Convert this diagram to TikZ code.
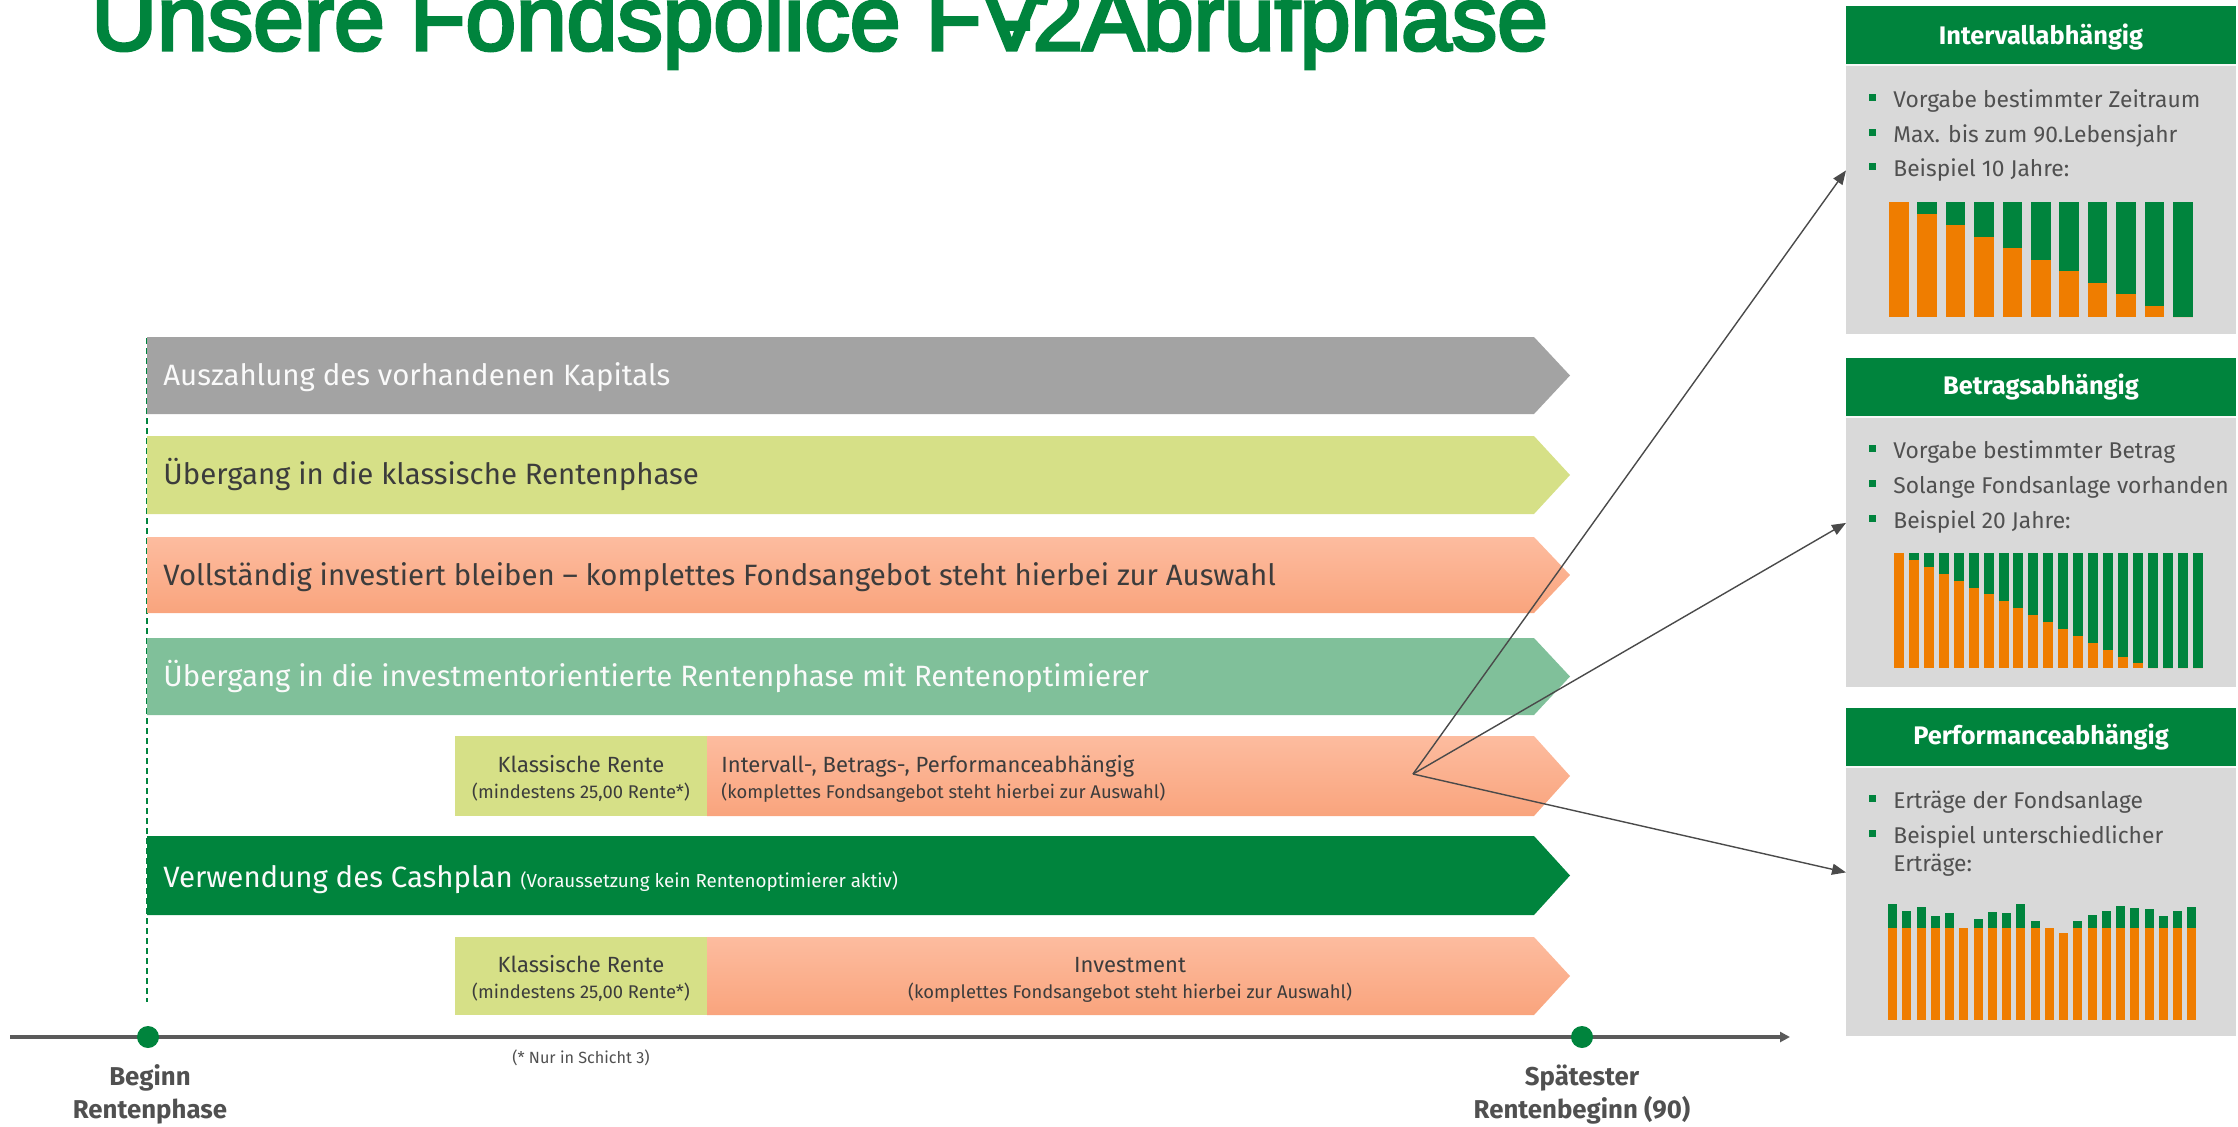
\documentclass[tikz,border=0pt]{standalone}
\usepackage{fontspec}
\setmainfont{Fira Sans}
\newfontfamily\titlefont[FakeBold=3.5]{Liberation Sans}
\usetikzlibrary{arrows.meta,calc}
\definecolor{dgreen}{HTML}{00843D}
\definecolor{mgreen}{HTML}{80C09A}
\definecolor{lgreen}{HTML}{D6E087}
\definecolor{greybar}{HTML}{A3A3A3}
\definecolor{salmonT}{HTML}{FDBC9F}
\definecolor{salmonB}{HTML}{F9A47D}
\definecolor{orng}{HTML}{EF7D00}
\definecolor{panelbg}{HTML}{D9D9D9}
\definecolor{txt}{HTML}{3C3C3C}
\definecolor{ptxt}{HTML}{505050}
\definecolor{linegray}{HTML}{4A4A4A}
\definecolor{tlgray}{HTML}{5A5A5A}
\newcommand{\ArrowBar}[4]{\fill[#4] (#1,#2) -- (1534,#2) -- (1570,{(#2+#3)/2}) -- (1534,#3) -- (#1,#3) -- cycle;}
\newcommand{\ShadeBar}[3]{\shade[top color=salmonT,bottom color=salmonB] (#1,#2) -- (1534,#2) -- (1570,{(#2+#3)/2}) -- (1534,#3) -- (#1,#3) -- cycle;}
\begin{document}
\begin{tikzpicture}[x=0.5pt,y=-0.5pt,
  titletxt/.style={font=\titlefont\fontsize{45.5}{50}\selectfont, text=dgreen, inner sep=0},
  bartxt/.style={font=\fontsize{14.7}{17}\selectfont, inner sep=0, text=txt},
  barwhite/.style={bartxt, text=white!96!gray},
  midtxt/.style={font=\fontsize{11}{13}\selectfont, inner sep=0, text=txt},
  smalltxt/.style={font=\fontsize{9.2}{11}\selectfont, inner sep=0, text=txt},
  ptext/.style={font=\fontsize{11.4}{13}\selectfont, inner sep=0, text=ptxt},
  phead/.style={font=\bfseries\fontsize{12.7}{15}\selectfont, inner sep=0, text=white},
  panelbox/.style={fill=panelbg, inner sep=0, minimum width=195pt, anchor=north west},
  headbox/.style={fill=dgreen, inner sep=0, minimum width=195pt, minimum height=29pt, anchor=north west},
  bul/.style={fill=dgreen, inner sep=0, minimum size=3.5pt},
  blabel/.style={font=\bfseries\fontsize{12.9}{15}\selectfont, inner sep=0, text=ptxt},
  dot/.style={circle, fill=dgreen, inner sep=0, minimum size=11pt},
  conn/.style={draw=linegray, line width=0.7pt, -{Triangle[length=7pt,width=5.5pt]}},
  timeline/.style={draw=tlgray, line width=1.6pt, -{Triangle[length=5pt,width=5pt]}}
]
\useasboundingbox (0,0) rectangle (2238,1126);
\clip (0,0) rectangle (2238,1126);

% title
\node[titletxt, anchor=base west] (t1) at (91,50) {Unsere Fondspolice FV\kern-20pt-2A};
\node[titletxt, anchor=base west] (t2) at (1082,50) {Abrufphase};

% dashed start line
\coordinate (v0) at (147,338);
\coordinate (v1) at (147,1002);
\draw[dgreen, line width=0.7pt, dash pattern=on 3pt off 2pt] (v0) -- (v1);

% bars
\ArrowBar{147}{337}{414}{greybar}
\ArrowBar{147}{436}{514}{lgreen}
\ShadeBar{147}{537}{613}
\ArrowBar{147}{638}{715}{mgreen}
\fill[lgreen] (455,736) rectangle (707,816);
\ShadeBar{707}{736}{816}
\ArrowBar{147}{836}{915}{dgreen}
\fill[lgreen] (455,937) rectangle (707,1015);
\ShadeBar{707}{937}{1015}

\node[barwhite, anchor=base west] (b1) at (163,385) {Auszahlung des vorhandenen Kapitals};
\node[bartxt, anchor=base west] (b2) at (163,484) {Übergang in die klassische Rentenphase};
\node[bartxt, anchor=base west] (b3) at (163,585) {Vollständig investiert bleiben – komplettes Fondsangebot steht hierbei zur Auswahl};
\node[barwhite, anchor=base west] (b4) at (163,686) {Übergang in die investmentorientierte Rentenphase mit Rentenoptimierer};
\node[midtxt, anchor=base] (k1) at (581,772) {Klassische Rente};
\node[smalltxt, anchor=base] (k1s) at (581,798) {(mindestens 25,00 Rente*)};
\node[midtxt, anchor=base west] (i1) at (721,772) {Intervall-, Betrags-, Performanceabhängig};
\node[smalltxt, anchor=base west] (i1s) at (721,798) {(komplettes Fondsangebot steht hierbei zur Auswahl)};
\node[barwhite, anchor=base west] (b6) at (163,887) {Verwendung des Cashplan {\fontsize{9.4}{11}\selectfont (Voraussetzung kein Rentenoptimierer aktiv)}};
\node[midtxt, anchor=base] (k2) at (581,972) {Klassische Rente};
\node[smalltxt, anchor=base] (k2s) at (581,998) {(mindestens 25,00 Rente*)};
\node[midtxt, anchor=base] (i2) at (1130,972) {Investment};
\node[smalltxt, anchor=base] (i2s) at (1130,998) {(komplettes Fondsangebot steht hierbei zur Auswahl)};

% timeline
\coordinate (tl0) at (10,1037);
\coordinate (tl1) at (1790,1037);
\draw[timeline] (tl0) -- (tl1);
\node[dot] (d1) at (148,1037) {};
\node[dot] (d2) at (1582,1037) {};
\node[blabel, anchor=base] (l1a) at (150,1085) {Beginn};
\node[blabel, anchor=base] (l1b) at (150,1118) {Rentenphase};
\node[blabel, anchor=base] (l2a) at (1582,1085) {Spätester};
\node[blabel, anchor=base] (l2b) at (1582,1118) {Rentenbeginn (90)};
\node[smalltxt, font=\fontsize{8.1}{10}\selectfont, text=ptxt, anchor=base] (fn) at (581,1063) {(* Nur in Schicht 3)};

% panels
\node[panelbox, minimum height=164pt] (p1) at (1846,6) {};
\node[headbox] (h1) at (1846,6) {};
\fill[white!80!panelbg] (1846,64) rectangle (2236,66);
\node[phead, anchor=base] at (2041,44) {Intervallabhängig};

\node[panelbox, minimum height=164.5pt] (p2) at (1846,358) {};
\node[headbox] (h2) at (1846,358) {};
\fill[white!80!panelbg] (1846,416) rectangle (2236,418);
\node[phead, anchor=base] at (2041,394) {Betragsabhängig};

\node[panelbox, minimum height=164pt] (p3) at (1846,708) {};
\node[headbox] (h3) at (1846,708) {};
\fill[white!80!panelbg] (1846,766) rectangle (2236,768);
\node[phead, anchor=base] at (2041,744) {Performanceabhängig};

% panel texts
\foreach \yy/\tt in {107/Vorgabe bestimmter Zeitraum, 142/Max. bis zum 90.Lebensjahr, 176/Beispiel 10 Jahre:,
                     458/Vorgabe bestimmter Betrag, 493/Solange Fondsanlage vorhanden, 528/Beispiel 20 Jahre:,
                     808/Erträge der Fondsanlage, 843/Beispiel unterschiedlicher}{
  \node[bul] at (1872.5,\yy-10) {};
  \node[ptext, anchor=base west] at (1893,\yy) {\tt};
}
\node[ptext, anchor=base west] at (1893,871) {Erträge:};

% chart 1
\foreach \i in {0,...,10}{
  \pgfmathsetmacro\xl{1889+\i*28.4}
  \pgfmathsetmacro\ot{317-(10-\i)*11.5}
  \fill[dgreen] (\xl,202) rectangle (\xl+19.5,\ot);
  \fill[orng] (\xl,\ot) rectangle (\xl+19.5,317);
}
% chart 2
\foreach \i in {0,...,20}{
  \pgfmathsetmacro\xl{1894+\i*14.93}
  \pgfmathsetmacro\ot{668-max(0,1-0.06*\i)*115}
  \fill[dgreen] (\xl,553) rectangle (\xl+10,\ot);
  \fill[orng] (\xl,\ot) rectangle (\xl+10,668);
}
% chart 3
\foreach \i/\g/\o in {0/904.3/928,1/910.7/928,2/907/928,3/915.7/928,4/912.7/928,5/928/928,
  6/918.7/928,7/911.7/928,8/912.7/928,9/904.3/928,10/920.7/928,11/928/928,12/933.3/933.3,
  13/920.7/928,14/914.7/928,15/910.7/928,16/906/928,17/907.7/928,18/908.7/928,19/916/928,
  20/910.7/928,21/907/928}{
  \pgfmathsetmacro\xl{1888+\i*14.25}
  \fill[dgreen] (\xl,\g) rectangle (\xl+9,\o);
  \fill[orng] (\xl,\o) rectangle (\xl+9,1020);
}

% connectors
\coordinate (src) at (1413,774);
\draw[conn] (src) -- (p1.west);
\draw[conn] (src) -- (p2.west);
\draw[conn] (src) -- (p3.west);
\end{tikzpicture}
\end{document}
